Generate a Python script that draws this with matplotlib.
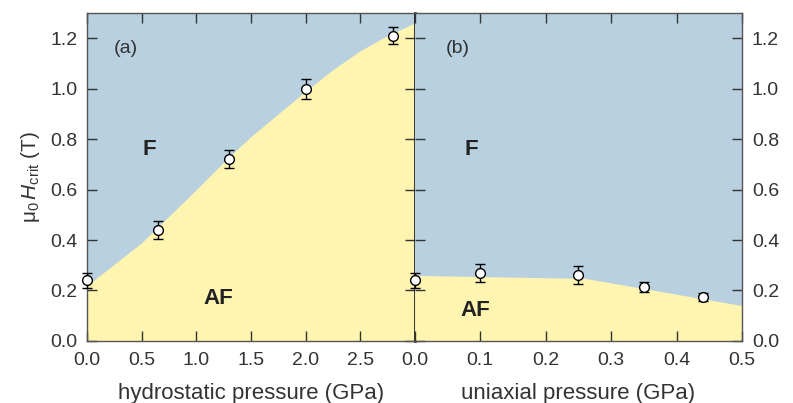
import matplotlib
matplotlib.use("Agg")
import matplotlib.pyplot as plt

plt.rcParams['font.family'] = ['Liberation Sans', 'DejaVu Sans']
plt.rcParams['mathtext.fontset'] = 'custom'
plt.rcParams['mathtext.rm'] = 'Liberation Sans'
plt.rcParams['mathtext.it'] = 'Liberation Sans:italic'

# hydrostatic pressure data
hydro_p = [0.0, 0.65, 1.3, 2.0, 2.8]
hydro_h = [0.24, 0.44, 0.72, 1.00, 1.21]
hydro_err = [0.03, 0.035, 0.035, 0.04, 0.035]
hydro_bound_p = [0.0, 0.5, 1.0, 1.3, 1.5, 2.0, 2.25, 2.5, 2.75, 3.0]
hydro_bound_h = [0.22, 0.39, 0.60, 0.73, 0.81, 0.99, 1.075, 1.15, 1.21, 1.26]

# uniaxial pressure data
uni_p = [0.0, 0.1, 0.25, 0.35, 0.44]
uni_h = [0.24, 0.27, 0.26, 0.215, 0.175]
uni_err = [0.03, 0.035, 0.035, 0.02, 0.015]
uni_bound_p = [0.0, 0.1, 0.26, 0.5]
uni_bound_h = [0.26, 0.255, 0.248, 0.14]

blue = '#b8d0df'
yellow = '#fff4b0'
spine_col = '#555555'
txt_col = '#333333'

fig, (ax1, ax2) = plt.subplots(1, 2, figsize=(7.93, 4.03), dpi=100, sharey=True)
fig.subplots_adjust(left=0.110, right=0.936, bottom=0.154, top=0.968, wspace=0)

for ax in (ax1, ax2):
    ax.set_facecolor(blue)
    ax.set_ylim(0, 1.3)
    ax.set_yticks([0.0, 0.2, 0.4, 0.6, 0.8, 1.0, 1.2])
    ax.tick_params(direction='in', length=7, width=1, top=True, right=True,
                   labelsize=14, color='#333333', labelcolor=txt_col)
    ax.tick_params(axis='x', pad=8)
    ax.tick_params(axis='y', pad=7)
    for s in ax.spines.values():
        s.set_color(spine_col)
        s.set_linewidth(1)

# panel (a)
ax1.fill_between(hydro_bound_p, 0, hydro_bound_h, color=yellow, lw=0)
ax1.errorbar(hydro_p, hydro_h, yerr=hydro_err, fmt='o', mfc='white', mec='black',
             ms=7, mew=1, ecolor='black', elinewidth=1, capsize=3.5, clip_on=False, zorder=5)
ax1.set_xlim(0, 3.0)
ax1.set_xticks([0.0, 0.5, 1.0, 1.5, 2.0, 2.5, 3.0])
ax1.set_xticklabels(['0.0', '0.5', '1.0', '1.5', '2.0', '2.5', ''])
ax1.set_yticklabels(['0.0', '0.2', '0.4', '0.6', '0.8', '1.0', '1.2'])
ax1.set_xlabel('hydrostatic pressure (GPa)', fontsize=16, labelpad=10, color=txt_col)
ax1.set_ylabel(r'μ$_0\,H_{\rm crit}$ (T)', fontsize=15, labelpad=6, color=txt_col)
ax1.spines['right'].set_color('black')
ax1.spines['right'].set_linewidth(1.8)
ax1.text(0.35, 1.16, '(a)', fontsize=14, ha='center', va='center', color=txt_col)
ax1.text(0.57, 0.76, 'F', fontsize=16, fontweight='bold', ha='center', va='center', color='#222222')
ax1.text(1.2, 0.17, 'AF', fontsize=16, fontweight='bold', ha='center', va='center', color='#222222')

# panel (b)
ax2.fill_between(uni_bound_p, 0, uni_bound_h, color=yellow, lw=0)
ax2.errorbar(uni_p, uni_h, yerr=uni_err, fmt='o', mfc='white', mec='black',
             ms=7, mew=1, ecolor='black', elinewidth=1, capsize=3.5, clip_on=False, zorder=5)
ax2.set_xlim(0, 0.5)
ax2.set_xticks([0.0, 0.1, 0.2, 0.3, 0.4, 0.5])
ax2.set_xticklabels(['0.0', '0.1', '0.2', '0.3', '0.4', '0.5'])
ax2.set_xlabel('uniaxial pressure (GPa)', fontsize=16, labelpad=10, color=txt_col)
ax2.spines['left'].set_visible(False)
ax2.tick_params(labelleft=False, labelright=True)
ax2.text(0.066, 1.16, '(b)', fontsize=14, ha='center', va='center', color=txt_col)
ax2.text(0.086, 0.76, 'F', fontsize=16, fontweight='bold', ha='center', va='center', color='#222222')
ax2.text(0.093, 0.12, 'AF', fontsize=16, fontweight='bold', ha='center', va='center', color='#222222')

fig.savefig('out.png', dpi=100)
